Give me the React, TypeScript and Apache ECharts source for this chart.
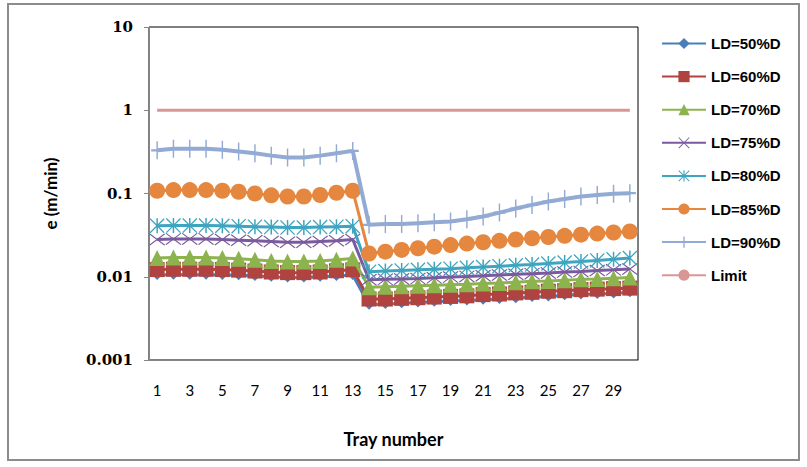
import React, { useEffect, useRef } from "react";
import * as echarts from "echarts";

const trays = Array.from({ length: 30 }, (_, i) => String(i + 1));

const seriesNames = ["LD=50%D", "LD=60%D", "LD=70%D", "LD=75%D", "LD=80%D", "LD=85%D", "LD=90%D", "Limit"];

const ld50 = [0.0105, 0.0106, 0.0106, 0.0106, 0.0105, 0.0104, 0.0102, 0.0100, 0.0098, 0.0098, 0.0100, 0.0102, 0.0105,
  0.0046, 0.0047, 0.0048, 0.0049, 0.0050, 0.0051, 0.0052, 0.0053, 0.0054, 0.0055, 0.0057, 0.0058, 0.0060, 0.0061, 0.0062, 0.0063, 0.0065];
const ld60 = [0.0122, 0.0123, 0.0123, 0.0123, 0.0122, 0.0120, 0.0117, 0.0114, 0.0112, 0.0112, 0.0114, 0.0118, 0.0121,
  0.0054, 0.0054, 0.0055, 0.0056, 0.0057, 0.0058, 0.0059, 0.0061, 0.0062, 0.0064, 0.0065, 0.0067, 0.0068, 0.0070, 0.0071, 0.0072, 0.0073];
const ld70 = [0.0168, 0.0170, 0.0170, 0.0170, 0.0168, 0.0165, 0.0160, 0.0155, 0.0152, 0.0152, 0.0155, 0.0160, 0.0166,
  0.0075, 0.0076, 0.0077, 0.0078, 0.0079, 0.0080, 0.0081, 0.0083, 0.0084, 0.0086, 0.0088, 0.0089, 0.0091, 0.0093, 0.0094, 0.0096, 0.0098];
const ld75 = [0.0280, 0.0285, 0.0285, 0.0285, 0.0280, 0.0275, 0.0270, 0.0265, 0.0260, 0.0260, 0.0265, 0.0270, 0.0280,
  0.0092, 0.0093, 0.0094, 0.0095, 0.0097, 0.0099, 0.0101, 0.0103, 0.0105, 0.0107, 0.0109, 0.0111, 0.0114, 0.0116, 0.0119, 0.0121, 0.0124];
const ld80 = [0.0410, 0.0412, 0.0412, 0.0412, 0.0410, 0.0405, 0.0400, 0.0395, 0.0390, 0.0390, 0.0395, 0.0400, 0.0405,
  0.0115, 0.0117, 0.0119, 0.0121, 0.0123, 0.0125, 0.0128, 0.0131, 0.0134, 0.0137, 0.0140, 0.0144, 0.0148, 0.0152, 0.0157, 0.0162, 0.0168];
const ld85 = [0.108, 0.110, 0.110, 0.110, 0.108, 0.105, 0.100, 0.095, 0.092, 0.092, 0.096, 0.102, 0.108,
  0.019, 0.020, 0.021, 0.022, 0.023, 0.024, 0.025, 0.026, 0.027, 0.028, 0.029, 0.030, 0.031, 0.032, 0.033, 0.034, 0.035];
const ld90 = [0.330, 0.345, 0.345, 0.345, 0.335, 0.320, 0.305, 0.285, 0.270, 0.270, 0.285, 0.305, 0.325,
  0.042, 0.043, 0.043, 0.044, 0.045, 0.046, 0.049, 0.053, 0.059, 0.066, 0.073, 0.080, 0.086, 0.092, 0.096, 0.099, 0.101];
const limit = Array.from({ length: 30 }, () => 1);

const yTickLabels = ["0.001", "0.01", "0.1", "1", "10"];

const colors = ["#4A7EBB", "#B0433F", "#8DB34F", "#7A5A9E", "#3FA5BF", "#E5873E", "#93ABD4", "#D99694"];

const PLUS = "path://M-1.2,-10L1.2,-10L1.2,10L-1.2,10Z M-10,-1.2L10,-1.2L10,1.2L-10,1.2Z";
const XMARK = "path://M-10,-8.8L-8.8,-10L10,8.8L8.8,10Z M8.8,-10L10,-8.8L-8.8,10L-10,8.8Z";
const STAR = "path://M-10,-8.8L-8.8,-10L10,8.8L8.8,10Z M8.8,-10L10,-8.8L-8.8,10L-10,8.8Z M-1,-10L1,-10L1,10L-1,10Z";

export default function App() {
  const ref = useRef<HTMLDivElement>(null);
  useEffect(() => {
    if (!ref.current) return;
    const chart = echarts.init(ref.current, null, { renderer: "svg" });
    const datasets = [ld50, ld60, ld70, ld75, ld80, ld85, ld90, limit];
    const symbols = ["diamond", "rect", "triangle", XMARK, STAR, "circle", PLUS, "none"];
    const sizes: any[] = [10, 15, 16, [16, 12], 15, 16, [12, 18], 0];
    const widths = [3, 3, 3, 3, 3, 3, 4, 3];
    const series = datasets.map((d, i) => ({
      name: seriesNames[i],
      type: "line",
      data: d,
      symbol: symbols[i],
      symbolSize: sizes[i],
      showSymbol: symbols[i] !== "none",
      showAllSymbol: true,
      lineStyle: { color: colors[i], width: widths[i] },
      itemStyle: { color: colors[i] },
      emphasis: { disabled: true },
      z: 2 + i,
    }));
    chart.setOption({
      animation: false,
      graphic: [
        {
          type: "rect",
          shape: { x: 8, y: 4, width: 791, height: 456 },
          style: { fill: "none", stroke: "#8C8C8C", lineWidth: 2 },
          z: 0,
        },
      ],
      grid: {
        left: 149,
        right: 169,
        top: 27,
        bottom: 107,
        show: true,
        borderColor: "#000",
        borderWidth: 1,
        backgroundColor: "transparent",
      },
      legend: {
        orient: "vertical",
        left: 656,
        top: 31,
        itemWidth: 44,
        itemHeight: 14,
        itemGap: 18.1,
        data: seriesNames,
        textStyle: {
          fontFamily: "Liberation Sans",
          fontWeight: "bold",
          fontSize: 15,
          color: "#000",
        },
      },
      xAxis: {
        type: "category",
        data: trays,
        boundaryGap: true,
        name: "Tray number",
        nameLocation: "middle",
        nameGap: 70,
        nameTextStyle: {
          fontFamily: "Lato",
          fontWeight: "bold",
          fontSize: 18,
          color: "#000",
        },
        axisLine: { lineStyle: { color: "#868686", width: 1 } },
        axisTick: { interval: 0, length: 5, lineStyle: { color: "#868686" } },
        axisLabel: {
          interval: 1,
          margin: 22,
          fontFamily: "Lato",
          fontSize: 15,
          color: "#000",
        },
        splitLine: { show: false },
      },
      yAxis: {
        type: "log",
        logBase: 10,
        min: 0.001,
        max: 10,
        name: "e (m/min)",
        nameLocation: "middle",
        nameGap: 90,
        nameRotate: 90,
        nameTextStyle: {
          fontFamily: "Lato",
          fontWeight: "bold",
          fontSize: 17,
          color: "#000",
        },
        axisLine: { show: true, lineStyle: { color: "#868686", width: 1 } },
        axisTick: { show: true, length: 5, lineStyle: { color: "#868686" } },
        axisLabel: {
          margin: 16,
          fontFamily: "DejaVu Serif",
          fontWeight: "bold",
          fontSize: 15,
          color: "#000",
          formatter: (v: number) => {
            const p = Math.round(Math.log10(v));
            return yTickLabels[p + 3] ?? "";
          },
        },
        splitLine: { show: false },
        minorTick: { show: false },
      },
      series,
    });
    return () => chart.dispose();
  }, []);
  return (
    <div
      ref={ref}
      style={{ position: "absolute", left: 0, top: 0, width: 807, height: 467, background: "#fff" }}
    />
  );
}
